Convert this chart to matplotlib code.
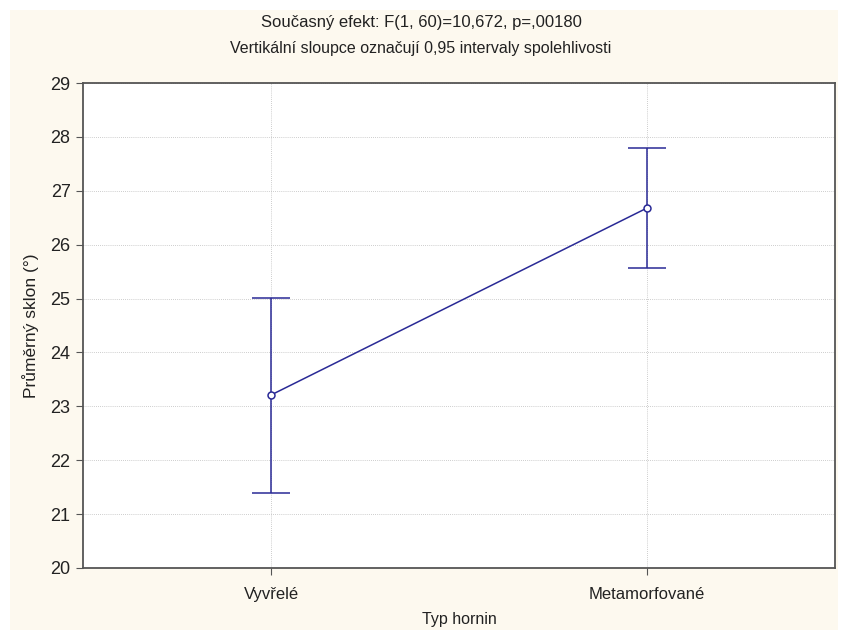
import matplotlib.pyplot as plt
from matplotlib.patches import Rectangle

# data
categories = ["Vyvřelé", "Metamorfované"]
means = [23.21, 26.68]
ci_low = [21.40, 25.57]
ci_high = [25.01, 27.80]
y_ticks = [20, 21, 22, 23, 24, 25, 26, 27, 28, 29]

plt.rcParams['font.family'] = ['Liberation Sans', 'DejaVu Sans']

fig = plt.figure(figsize=(8.42, 6.3), dpi=100)
fig.patch.set_facecolor("white")
# cream panel behind everything
fig.patches.append(Rectangle((10 / 842, 0), 828 / 842, 620 / 630,
                             transform=fig.transFigure, facecolor="#fdf9ef",
                             edgecolor="none", zorder=-10))

ax = fig.add_axes([83 / 842, 62 / 630, 752 / 842, 485 / 630])
ax.set_facecolor("white")

x = list(range(len(categories)))
navy = "#2a2a96"
err = [[m - lo for m, lo in zip(means, ci_low)],
       [hi - m for m, hi in zip(means, ci_high)]]
ax.errorbar(x, means, yerr=err, color=navy, lw=1.1, capsize=14, capthick=1.1,
            marker="o", markersize=5, markerfacecolor="white",
            markeredgecolor=navy, markeredgewidth=1.1, zorder=3)

ax.set_xlim(-0.5, 1.5)
ax.set_ylim(20, 29)
ax.set_yticks(y_ticks)
ax.set_xticks(x)
ax.set_xticklabels(categories)
ax.grid(True, color="#bdbdbd", linestyle=(0, (1, 1.5)), lw=0.6)
ax.set_axisbelow(True)

for s in ax.spines.values():
    s.set_color("#555555")
    s.set_linewidth(1.3)
ax.tick_params(axis="both", colors="#555555", labelcolor="#222222", length=5)
ax.tick_params(axis="y", labelsize=13, pad=4)
ax.tick_params(axis="x", labelsize=12, pad=9)

ax.set_ylabel("Průměrný sklon (°)", fontsize=12.5, color="#222222", labelpad=8)
ax.set_xlabel("Typ hornin", fontsize=11.5, color="#222222", labelpad=7)

fig.text(0.5, 1 - 22 / 630, "Současný efekt: F(1, 60)=10,672, p=,00180",
         ha="center", va="center", fontsize=12, color="#222222")
fig.text(0.5, 1 - 48 / 630, "Vertikální sloupce označují 0,95 intervaly spolehlivosti",
         ha="center", va="center", fontsize=11.5, color="#222222")

fig.savefig("out.png", dpi=100)
